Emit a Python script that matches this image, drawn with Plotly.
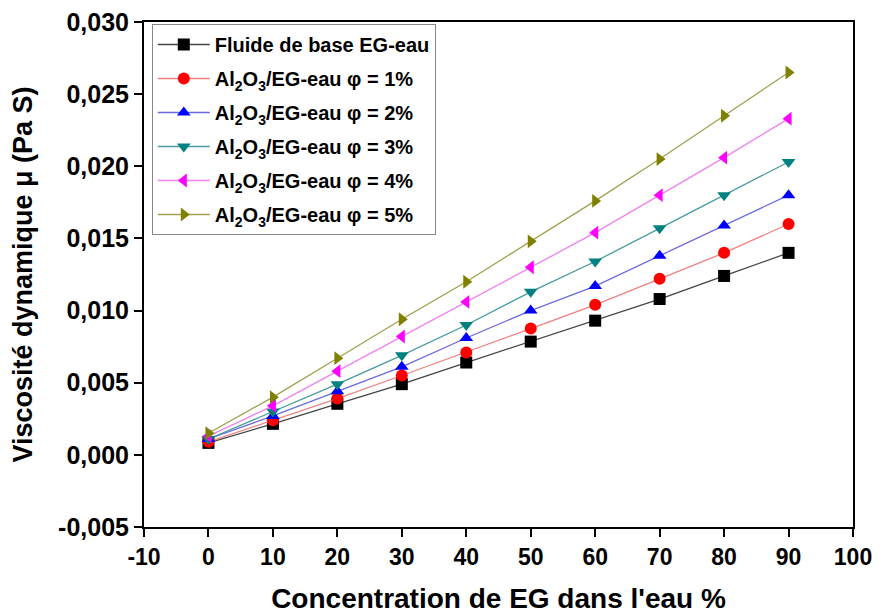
import plotly.graph_objects as go

concentration = [0, 10, 20, 30, 40, 50, 60, 70, 80, 90]
base_fluid = [0.00083, 0.00215, 0.00354, 0.0049, 0.0064, 0.00785, 0.0093, 0.0108, 0.0124, 0.0140]
phi_1 = [0.0009, 0.0024, 0.0039, 0.0055, 0.0071, 0.00875, 0.0104, 0.0122, 0.0140, 0.0160]
phi_2 = [0.0011, 0.0027, 0.0044, 0.0061, 0.0081, 0.0100, 0.0117, 0.0138, 0.0159, 0.0180]
phi_3 = [0.0011, 0.0030, 0.0049, 0.0069, 0.0090, 0.0113, 0.0134, 0.0157, 0.0180, 0.0203]
phi_4 = [0.0013, 0.0034, 0.0058, 0.0082, 0.0106, 0.0130, 0.0154, 0.0180, 0.0206, 0.0233]
phi_5 = [0.0015, 0.0040, 0.0067, 0.0094, 0.0120, 0.0148, 0.0176, 0.0205, 0.0235, 0.0265]

series_names = [
    "Fluide de base EG-eau",
    "Al<sub>2</sub>O<sub>3</sub>/EG-eau φ = 1%",
    "Al<sub>2</sub>O<sub>3</sub>/EG-eau φ = 2%",
    "Al<sub>2</sub>O<sub>3</sub>/EG-eau φ = 3%",
    "Al<sub>2</sub>O<sub>3</sub>/EG-eau φ = 4%",
    "Al<sub>2</sub>O<sub>3</sub>/EG-eau φ = 5%",
]
series_values = [base_fluid, phi_1, phi_2, phi_3, phi_4, phi_5]
colors = ["#000000", "#ff0000", "#0000ff", "#008080", "#ff00ff", "#808000"]
line_colors = ["#444444", "#f08080", "#6a6ae0", "#4a9a9a", "#f080f0", "#a0a050"]
symbols = ["square", "circle", "triangle-up", "triangle-down", "triangle-left", "triangle-right"]

x_tickvals = [-10, 0, 10, 20, 30, 40, 50, 60, 70, 80, 90, 100]
x_ticktext = ["-10", "0", "10", "20", "30", "40", "50", "60", "70", "80", "90", "100"]
y_tickvals = [-0.005, 0.0, 0.005, 0.010, 0.015, 0.020, 0.025, 0.030]
y_ticktext = ["-0,005", "0,000", "0,005", "0,010", "0,015", "0,020", "0,025", "0,030"]

font_family = "Liberation Sans, Arial, sans-serif"

fig = go.Figure()
for name, vals, c, lc, s in zip(series_names, series_values, colors, line_colors, symbols):
    fig.add_trace(go.Scatter(
        x=concentration, y=vals, name="<b>" + name + "</b>", mode="lines+markers",
        legendgroup=name,
        line=dict(color=lc, width=1.3),
        marker=dict(symbol=s, color=c, size=12, line=dict(width=0)),
    ))

fig.update_layout(
    width=882, height=616,
    margin=dict(l=144, r=29, t=22, b=89),
    paper_bgcolor="white", plot_bgcolor="white",
    font=dict(family=font_family, color="black"),
    showlegend=True,
    legend=dict(
        x=0.011, y=0.996, xanchor="left", yanchor="top",
        bgcolor="white", bordercolor="#888888", borderwidth=1,
        font=dict(size=20, family=font_family, color="black"),
        itemwidth=52, tracegroupgap=5,
    ),
    xaxis=dict(
        range=[-10, 100], tickvals=x_tickvals, tickmode="array",
        ticktext=["<b>" + t + "</b>" for t in x_ticktext],
        showgrid=False, zeroline=False, automargin=False,
        showline=True, linecolor="black", linewidth=2, mirror=True,
        ticks="outside", ticklen=8, tickwidth=2, tickcolor="black",
        tickfont=dict(size=23, family=font_family, color="black", weight="bold"),
        title=dict(text="<b>Concentration de EG dans l'eau %</b>",
                   font=dict(size=28, family=font_family, color="black"), standoff=20),
    ),
    yaxis=dict(
        range=[-0.005, 0.030], tickvals=y_tickvals, tickmode="array",
        ticktext=["<b>" + t + "</b>" for t in y_ticktext],
        showgrid=False, zeroline=False, automargin=False,
        showline=True, linecolor="black", linewidth=2, mirror=True,
        ticks="outside", ticklen=8, tickwidth=2, tickcolor="black",
        tickfont=dict(size=25, family=font_family, color="black"),
        title=dict(text="<b>Viscosité dynamique μ (Pa S)</b>",
                   font=dict(size=27, family=font_family, color="black"), standoff=18),
    ),
)

fig.write_html("out.html")
